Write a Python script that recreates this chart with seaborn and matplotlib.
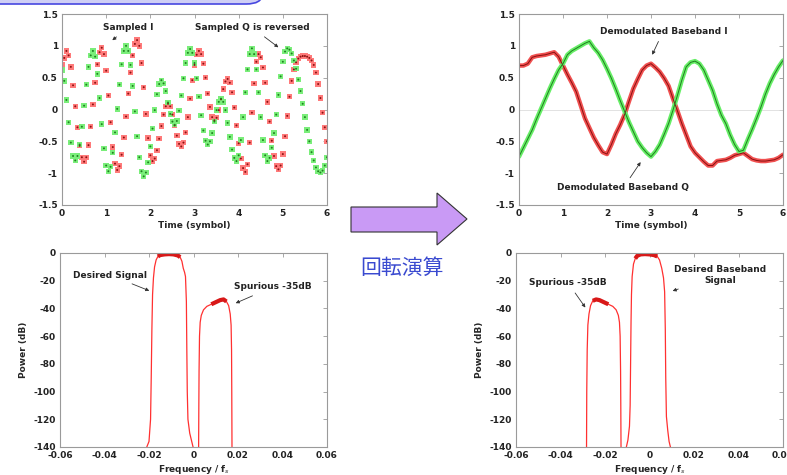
import numpy as np
import pandas as pd
import seaborn as sns
import matplotlib.pyplot as plt
from matplotlib.patches import Polygon, FancyBboxPatch

# ---- sampled IF signal (top left), one value every 0.05 symbol ----
sampled_i = [0.70, 0.81, 0.92, 0.85, 0.67, 0.38, 0.05, -0.28, -0.57, -0.75, -0.82,
             -0.75, -0.56, -0.27, 0.08, 0.42, 0.71, 0.90, 0.97,
             0.87, 0.61, 0.22, -0.20, -0.59, -0.85, -0.95,
             -0.89, -0.71, -0.44, -0.11, 0.25, 0.58, 0.85, 1.03, 1.09,
             1.00, 0.73, 0.35, -0.07, -0.45, -0.72, -0.81,
             -0.77, -0.64, -0.46, -0.26, -0.08, 0.05, 0.09,
             0.05, -0.08, -0.25, -0.41, -0.54, -0.58,
             -0.52, -0.36, -0.12, 0.17, 0.46, 0.70, 0.86, 0.92,
             0.87, 0.72, 0.50, 0.25, 0.04, -0.12, -0.17,
             -0.13, -0.01, 0.16, 0.32, 0.44, 0.48,
             0.42, 0.27, 0.03, -0.25, -0.53, -0.77, -0.92, -0.98,
             -0.86, -0.52, -0.05, 0.41, 0.75, 0.87,
             0.82, 0.66, 0.42, 0.12, -0.19, -0.49, -0.73, -0.89, -0.94,
             -0.88, -0.70, -0.42, -0.10, 0.20, 0.45, 0.63, 0.74, 0.80, 0.83, 0.84, 0.84,
             0.83, 0.81, 0.77, 0.70, 0.58, 0.40, 0.18, -0.05, -0.28, -0.50]
sampled_q = [0.62, 0.45, 0.15, -0.20, -0.52, -0.73, -0.80,
             -0.73, -0.55, -0.27, 0.06, 0.39, 0.67, 0.85, 0.92,
             0.83, 0.56, 0.18, -0.23, -0.61, -0.88, -0.97,
             -0.90, -0.68, -0.36, 0.01, 0.39, 0.71, 0.92, 1.00,
             0.92, 0.70, 0.37, -0.03, -0.42, -0.75, -0.97, -1.05,
             -0.99, -0.83, -0.58, -0.30, -0.01, 0.24, 0.40, 0.46,
             0.41, 0.29, 0.11, -0.07, -0.19, -0.24,
             -0.18, -0.02, 0.22, 0.49, 0.73, 0.89, 0.95,
             0.89, 0.73, 0.49, 0.20, -0.09, -0.33, -0.49, -0.55,
             -0.50, -0.37, -0.19, -0.01, 0.12, 0.17,
             0.12, -0.01, -0.21, -0.43, -0.63, -0.76, -0.81,
             -0.72, -0.48, -0.12, 0.27, 0.63, 0.87, 0.96,
             0.87, 0.63, 0.27, -0.12, -0.48, -0.72, -0.81,
             -0.76, -0.60, -0.37, -0.08, 0.23, 0.52, 0.75, 0.91, 0.96,
             0.94, 0.88, 0.77, 0.64, 0.47, 0.29, 0.09, -0.12, -0.32, -0.50, -0.67,
             -0.80, -0.91, -0.97, -0.99,
             -0.96, -0.88, -0.75]
t_samp = np.linspace(0, 6, len(sampled_i))

# ---- demodulated baseband (top right), one value every 0.1 symbol ----
base_i = [0.69, 0.69, 0.72, 0.82, 0.84, 0.85, 0.86, 0.88, 0.90, 0.83,
          0.69, 0.55, 0.42, 0.28, 0.07, -0.14, -0.29, -0.44, -0.56, -0.67,
          -0.70, -0.55, -0.38, -0.24, -0.08, 0.13, 0.33, 0.48, 0.62, 0.69,
          0.72, 0.66, 0.59, 0.49, 0.37, 0.17, -0.02, -0.22, -0.40, -0.58,
          -0.68, -0.75, -0.82, -0.88, -0.88, -0.81, -0.80, -0.79, -0.76, -0.72,
          -0.70, -0.68, -0.73, -0.78, -0.80, -0.81, -0.81, -0.80, -0.79, -0.76,
          -0.71]
base_q = [-0.74, -0.60, -0.46, -0.32, -0.15, 0.01, 0.17, 0.33, 0.48, 0.62,
          0.72, 0.86, 0.92, 0.96, 1.00, 1.04, 1.07, 0.97, 0.89, 0.78,
          0.64, 0.49, 0.32, 0.14, -0.03, -0.20, -0.35, -0.50, -0.60, -0.68,
          -0.74, -0.66, -0.55, -0.39, -0.22, -0.01, 0.22, 0.46, 0.67, 0.74,
          0.76, 0.72, 0.62, 0.46, 0.30, 0.09, -0.09, -0.22, -0.40, -0.55,
          -0.66, -0.64, -0.47, -0.31, -0.14, 0.04, 0.24, 0.41, 0.55, 0.67,
          0.77]
t_base = np.linspace(0, 6, len(base_i))

# ---- spectra before rotation (bottom left) ----
des_f = [-0.0210, -0.0200, -0.0193, -0.0190, -0.0187, -0.0184, -0.0180, -0.0175,
         -0.0168, -0.0160, -0.0150, -0.0130, -0.0110, -0.0090, -0.0070, -0.0060,
         -0.0052, -0.0046, -0.0040, -0.0036, -0.0032, -0.0030, -0.0028, -0.0025,
         -0.0017, -0.0008, -0.0002]
des_db = [-140, -136, -120, -90, -55, -30, -18, -10,
          -5, -2.5, -1.5, -1, -0.8, -1, -1.8, -3,
          -6, -11, -14, -17, -35, -70, -100, -120,
          -130, -136, -140]
spur_f = [0.0023, 0.0024, 0.0025, 0.0027, 0.0030, 0.0035, 0.0045, 0.0060, 0.0080,
          0.0100, 0.0120, 0.0135, 0.0148, 0.0158, 0.0165, 0.0169, 0.0171, 0.0172, 0.0173]
spur_db = [-140, -110, -85, -60, -50, -45, -41, -38.5, -37,
           -35.5, -34, -33.5, -35, -38, -44, -52, -70, -100, -140]

# ---- spectra after rotation (bottom right) ----
bb_f = [-0.0104, -0.0097, -0.0090, -0.0087, -0.0085, -0.0083, -0.0081, -0.0078,
        -0.0072, -0.0064, -0.0055, -0.0040, -0.0020, 0.0000, 0.0020, 0.0035,
        0.0045, 0.0055, 0.0063, 0.0068, 0.0071, 0.0073, 0.0076, 0.0082, 0.0088, 0.0094]
bb_db = [-140, -135, -125, -110, -80, -50, -30, -17,
         -8, -4, -2, -1, -0.8, -1, -1.5, -2.5,
         -5, -11, -18, -28, -55, -90, -118, -128, -136, -140]
bbspur_f = [-0.0283, -0.0282, -0.0280, -0.0277, -0.0272, -0.0265, -0.0255, -0.0240,
            -0.0225, -0.0205, -0.0185, -0.0165, -0.0150, -0.0140, -0.0135, -0.0132,
            -0.0130, -0.0129, -0.0128]
bbspur_db = [-140, -100, -70, -52, -44, -38, -34.5, -33.5,
             -34, -35.5, -37, -38.5, -41, -45, -50, -60,
             -85, -110, -140]

time_ticks = [0, 1, 2, 3, 4, 5, 6]
amp_ticks = [-1.5, -1, -0.5, 0, 0.5, 1, 1.5]
amp_labels = ["-1.5", "-1", "-0.5", "0", "0.5", "1", "1.5"]
freq_ticks = [-0.06, -0.04, -0.02, 0, 0.02, 0.04, 0.06]
freq_labels = ["-0.06", "-0.04", "-0.02", "0", "0.02", "0.04", "0.06"]
pow_ticks = [-140, -120, -100, -80, -60, -40, -20, 0]

sns.set_style("white")
plt.rcParams["font.family"] = ["DejaVu Sans", "Noto Sans CJK JP"]
plt.rcParams["axes.unicode_minus"] = False

W, H = 787, 475
fig = plt.figure(figsize=(W / 100, H / 100), dpi=100)


def px_axes(x0, y0, x1, y1):
    return fig.add_axes([x0 / W, 1 - y1 / H, (x1 - x0) / W, (y1 - y0) / H])


def style(ax):
    for s in ax.spines.values():
        s.set_color("#9a9a9a")
        s.set_linewidth(0.8)
    ax.tick_params(direction="in", length=3, width=0.6, color="#9a9a9a",
                   labelsize=6.5, pad=3, top=True, right=True)
    for lab in ax.get_xticklabels() + ax.get_yticklabels():
        lab.set_fontweight("bold")
        lab.set_color("#222222")


RED, RED_D = "#f05050", "#8a1010"
GRN, GRN_D = "#66ee66", "#1f7f1f"
ann = dict(fontsize=6.5, fontweight="bold", color="#222222", ha="center", va="center")
arr = dict(arrowstyle="-|>", lw=0.6, color="#333333", mutation_scale=5)

# ---------- top left ----------
ax1 = px_axes(62, 14, 327, 205)
df_s = pd.DataFrame({"t": np.concatenate([t_samp, t_samp]),
                     "v": sampled_i + sampled_q,
                     "ch": ["I"] * len(sampled_i) + ["Q"] * len(sampled_q)})
sns.scatterplot(data=df_s, x="t", y="v", hue="ch", palette={"I": "#ff7a7a", "Q": "#7aee7a"},
                marker="s", s=15, linewidth=0, legend=False, ax=ax1)
sns.scatterplot(data=df_s, x="t", y="v", hue="ch", palette={"I": RED_D, "Q": GRN_D},
                marker="o", s=2, linewidth=0, legend=False, ax=ax1)
ax1.set_xlim(0, 6)
ax1.set_ylim(-1.5, 1.5)
ax1.set_xticks(time_ticks)
ax1.set_yticks(amp_ticks, amp_labels)
ax1.set_xlabel("Time (symbol)", fontsize=6.5, fontweight="bold", labelpad=2)
ax1.set_ylabel("")
ax1.annotate("Sampled I", xy=(1.09, 1.06), xytext=(1.5, 1.29), arrowprops=arr, **ann)
ax1.annotate("Sampled Q is reversed", xy=(4.95, 0.95), xytext=(4.3, 1.29), arrowprops=arr, **ann)
style(ax1)

# ---------- top right ----------
ax2 = px_axes(519, 14, 783, 205)
ax2.axhline(0, color="#dddddd", lw=0.6)
df_b = pd.DataFrame({"t": np.concatenate([t_base, t_base]),
                     "v": base_i + base_q,
                     "ch": ["I"] * len(base_i) + ["Q"] * len(base_q)})
sns.lineplot(data=df_b, x="t", y="v", hue="ch", palette={"I": RED, "Q": GRN},
             lw=3.2, legend=False, ax=ax2)
sns.lineplot(data=df_b, x="t", y="v", hue="ch", palette={"I": RED_D, "Q": GRN_D},
             lw=0.7, legend=False, ax=ax2)
ax2.set_xlim(0, 6)
ax2.set_ylim(-1.5, 1.5)
ax2.set_xticks(time_ticks)
ax2.set_yticks(amp_ticks, amp_labels)
ax2.set_xlabel("Time (symbol)", fontsize=6.5, fontweight="bold", labelpad=2)
ax2.set_ylabel("")
ax2.annotate("Demodulated Baseband I", xy=(3.0, 0.82), xytext=(3.28, 1.23), arrowprops=arr, **ann)
ax2.annotate("Demodulated Baseband Q", xy=(2.8, -0.79), xytext=(2.37, -1.23), arrowprops=arr, **ann)
style(ax2)


def spectrum(ax, pieces):
    for f, db in pieces:
        f = np.array(f)
        db = np.array(db)
        sns.lineplot(x=f, y=db, color="#ff3030", lw=0.9, sort=False, ax=ax)
        # noisy top of each lobe drawn as a thick band
        top = db > db.max() - 4
        ax.plot(f[top], db[top], color="#d81818", lw=3.0, solid_capstyle="butt",
                solid_joinstyle="round")
    ax.set_xlim(-0.06, 0.06)
    ax.set_ylim(-140, 0)
    ax.set_xticks(freq_ticks, freq_labels)
    ax.set_yticks(pow_ticks)
    ax.set_xlabel("Frequency / f$_s$", fontsize=6.5, fontweight="bold", labelpad=2)
    ax.set_ylabel("Power (dB)", fontsize=6.5, fontweight="bold", labelpad=4)
    style(ax)


# ---------- bottom left ----------
ax3 = px_axes(60, 253, 327, 447)
spectrum(ax3, [(des_f, des_db), (spur_f, spur_db)])
ax3.annotate("Desired Signal", xy=(-0.0187, -28), xytext=(-0.0375, -15.9), arrowprops=arr, **ann)
ax3.annotate("Spurious -35dB", xy=(0.0178, -37), xytext=(0.0357, -24.5), arrowprops=arr, **ann)

# ---------- bottom right ----------
ax4 = px_axes(516, 253, 783, 447)
spectrum(ax4, [(bb_f, bb_db), (bbspur_f, bbspur_db)])
ax4.annotate("Desired Baseband\nSignal", xy=(0.0092, -28), xytext=(0.0316, -16),
             arrowprops=arr, **ann)
ax4.annotate("Spurious -35dB", xy=(-0.0281, -41), xytext=(-0.0366, -21.6), arrowprops=arr, **ann)

# ---------- decorations ----------
fig.patches.append(FancyBboxPatch((-40 / W, 1 - 4 / H), 302 / W, 40 / H,
                                  boxstyle="round,pad=0,rounding_size=0.02",
                                  transform=fig.transFigure, facecolor="#cfcff5",
                                  edgecolor="#4848e0", lw=1.2))
arrow_px = [(351, 207), (437, 207), (437, 193), (467, 219), (437, 245), (437, 232), (351, 232)]
fig.patches.append(Polygon([(x / W, 1 - y / H) for x, y in arrow_px], closed=True,
                           transform=fig.transFigure, facecolor="#c99af5",
                           edgecolor="#333333", lw=0.8))
fig.text(402 / W, 1 - 268 / H, "回転演算", fontsize=15, color="#3a4ad0",
         family=["Noto Sans CJK JP", "DejaVu Sans"], ha="center", va="center")

fig.savefig("out.png", dpi=100)
